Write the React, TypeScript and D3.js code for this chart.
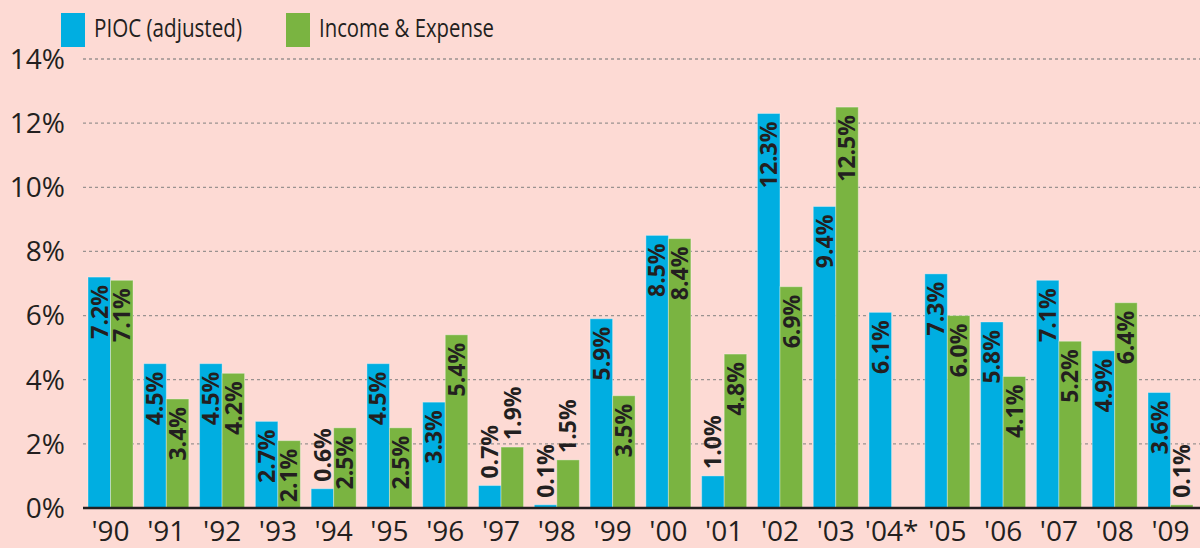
import React from "react";
import * as d3 from "d3";

const years = ["'90", "'91", "'92", "'93", "'94", "'95", "'96", "'97", "'98", "'99", "'00", "'01", "'02", "'03", "'04*", "'05", "'06", "'07", "'08", "'09"];
const pioc = [7.2, 4.5, 4.5, 2.7, 0.6, 4.5, 3.3, 0.7, 0.1, 5.9, 8.5, 1.0, 12.3, 9.4, 6.1, 7.3, 5.8, 7.1, 4.9, 3.6];
const incomeExpense = [7.1, 3.4, 4.2, 2.1, 2.5, 2.5, 5.4, 1.9, 1.5, 3.5, 8.4, 4.8, 6.9, 12.5, null, 6.0, 4.1, 5.2, 6.4, 0.1];
const yTicks = [0, 2, 4, 6, 8, 10, 12, 14];
const seriesNames = ["PIOC (adjusted)", "Income & Expense"];
const seriesColors = ["#00aee1", "#7ab441"];

const width = 1200;
const height = 548;
const bg = "#fddad4";
const ink = "#231f20";

export default function App() {
  const x = d3.scaleBand<string>().domain(years).range([88, 1193]).paddingInner(0.193).paddingOuter(0);
  const inner = d3.scaleBand<number>().domain([0, 1]).range([0, x.bandwidth()]);
  const y = d3.scaleLinear().domain([0, 14]).range([508, 59]);

  const bars: { key: string; xPos: number; v: number; s: number }[] = [];
  years.forEach((yr, i) => {
    [pioc[i], incomeExpense[i]].forEach((v, s) => {
      if (v == null) return;
      bars.push({ key: yr + s, xPos: (x(yr) as number) + (inner(s) as number), v, s });
    });
  });

  const labelSize = 23;
  // legend: swatch left edge, text width (the original face is narrow)
  const legendX = [61, 286];
  const legendLen = [148, 175];

  return (
    <svg width={width} height={height} style={{ position: "absolute", left: 0, top: 0, background: bg }}>
      <rect width={width} height={height} fill={bg} />

      {/* grid */}
      {yTicks.filter(t => t > 0).map(t => (
        <line key={t} x1={83} x2={1200} y1={y(t)} y2={y(t)} stroke="#9a9290" strokeWidth={1.3} strokeDasharray="3,3" />
      ))}
      {yTicks.map(t => (
        <text key={t} x={65} y={y(t)} dy="0.35em" textAnchor="end" fontFamily="'Open Sans', sans-serif" fontSize={28} fill={ink}>
          {t}%
        </text>
      ))}

      {/* bars */}
      {bars.map(b => (
        <rect key={b.key} x={b.xPos} y={y(b.v)} width={inner.bandwidth()} height={y(0) - y(b.v)}
          fill={seriesColors[b.s]} stroke="rgba(255,255,255,0.35)" strokeWidth={1} />
      ))}

      {/* value labels */}
      {bars.map(b => {
        const cx = b.xPos + inner.bandwidth() / 2 + labelSize * 0.36;
        const inside = b.v >= 2;
        const ty = inside ? y(b.v) + 8 : y(b.v) - 7;
        return (
          <text key={"l" + b.key} transform={`translate(${cx},${ty}) rotate(-90)`}
            textAnchor={inside ? "end" : "start"} fontFamily="'Open Sans', sans-serif" fontWeight={700}
            fontSize={labelSize} fill={ink}>
            {b.v.toFixed(1)}%
          </text>
        );
      })}

      {/* x axis */}
      <line x1={83} x2={1200} y1={y(0)} y2={y(0)} stroke={ink} strokeWidth={2.5} />
      {years.map(yr => (
        <text key={yr} x={(x(yr) as number) + x.bandwidth() / 2} y={541} textAnchor="middle"
          fontFamily="'Open Sans', sans-serif" fontSize={28} fill={ink}>
          {yr}
        </text>
      ))}

      {/* legend */}
      {seriesNames.map((name, i) => (
        <g key={name}>
          <rect x={legendX[i]} y={13} width={24} height={34} fill={seriesColors[i]} />
          <text x={legendX[i] + 33} y={37} textLength={legendLen[i]} lengthAdjust="spacingAndGlyphs"
            fontFamily="'Open Sans', sans-serif" fontSize={25} fill={ink}>{name}</text>
        </g>
      ))}
    </svg>
  );
}
